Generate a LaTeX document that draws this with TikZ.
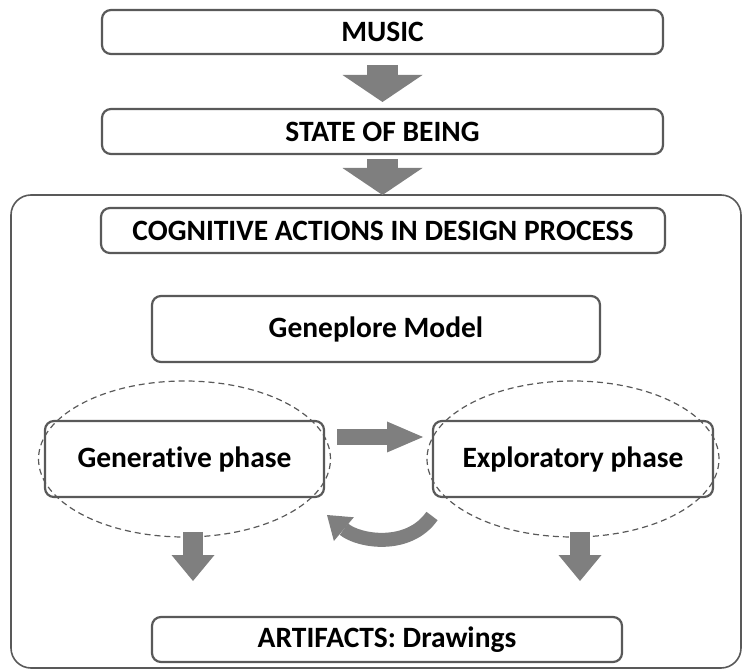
\documentclass[tikz,border=0pt]{standalone}
\usepackage{fontspec}
\setmainfont{Carlito}[Ligatures=NoCommon]
\usepackage{tikz}
\usetikzlibrary{arrows.meta,positioning,shapes.geometric}
\definecolor{boxline}{HTML}{595959}
\definecolor{arrowgray}{HTML}{7F7F7F}
\tikzstyle{block} = [rectangle,draw=boxline,line width=2.2pt,rounded corners=9pt,minimum height=45pt,inner sep=0pt,outer sep=0pt,font=\fontsize{29.5}{33}\selectfont\bfseries]
\tikzstyle{frame} = [rectangle,draw=boxline,line width=1.6pt,rounded corners=20pt,inner sep=0pt,outer sep=0pt]
\tikzstyle{loop} = [ellipse,draw=boxline,dash pattern=on 6pt off 4pt,line width=1.2pt,minimum width=292pt,minimum height=156pt,inner sep=0pt]

\begin{document}
\begin{tikzpicture}[x=1pt,y=1pt,
    fatarrow/.style = {draw=arrowgray,line width=31pt,-{Triangle[width=80pt,length=27pt,line width=0pt]}},
    sidearrow/.style = {draw=arrowgray,line width=16pt,-{Triangle[width=31pt,length=36pt,line width=0pt]}},
    droparrow/.style = {draw=arrowgray,line width=20pt,-{Triangle[width=43pt,length=26pt,line width=0pt]}},
    bendarrow/.style = {draw=arrowgray,line width=14pt,-{Triangle[width=31pt,length=22pt,line width=0pt]}}
                        ]
    \useasboundingbox (0,0) rectangle (742,670);
    % We start by placing the blocks
    \node [block, minimum width=561pt, minimum height=44pt] (music) at (382.5,638) {MUSIC};
    \node [block, minimum width=561pt, below=55pt of music] (state) {STATE OF BEING};
    \node [frame, minimum width=730pt, minimum height=473pt] (frame) at (376,238.5) {};
    \node [block, minimum width=564pt] (cog) at (383,439.5) {COGNITIVE ACTIONS IN DESIGN PROCESS};
    \node [block, minimum width=448pt, minimum height=66pt] (gene) at (376,341) {Geneplore Model};
    \node [block, minimum width=279pt, minimum height=76pt] (genph) at (184.5,211) {Generative phase};
    \node [block, minimum width=280pt, minimum height=76pt] (expph) at (573,211) {Exploratory phase};
    \node [block, minimum width=470pt] (art) at (387,30.5) {ARTIFACTS: Drawings};

    % dashed loops round the two phases
    \node [loop] (genloop) at (genph) {};
    \node [loop] (exploop) at (expph) {};

    % Once the nodes are placed, connecting them is easy.
    \draw [fatarrow] ([yshift=-11pt]music.south) -- ([yshift=7pt]state.north);
    \draw [fatarrow] ([yshift=-5pt]state.south) -- (state.south |- frame.north);
    \draw [sidearrow] ([xshift=13pt,yshift=22pt]genph.east) -- ([xshift=-10pt,yshift=22pt]expph.west);
    \draw [bendarrow] ([xshift=-1pt,yshift=-19pt]expph.south west) to[out=-125,in=-40] ([xshift=3pt,yshift=-18pt]genph.south east);
    \draw [droparrow] ([xshift=8.5pt,yshift=-35pt]genph.south) -- ([xshift=8.5pt,yshift=-84pt]genph.south);
    \draw [droparrow] ([xshift=7pt,yshift=-35pt]expph.south) -- ([xshift=7pt,yshift=-84pt]expph.south);

\end{tikzpicture}
\end{document}
